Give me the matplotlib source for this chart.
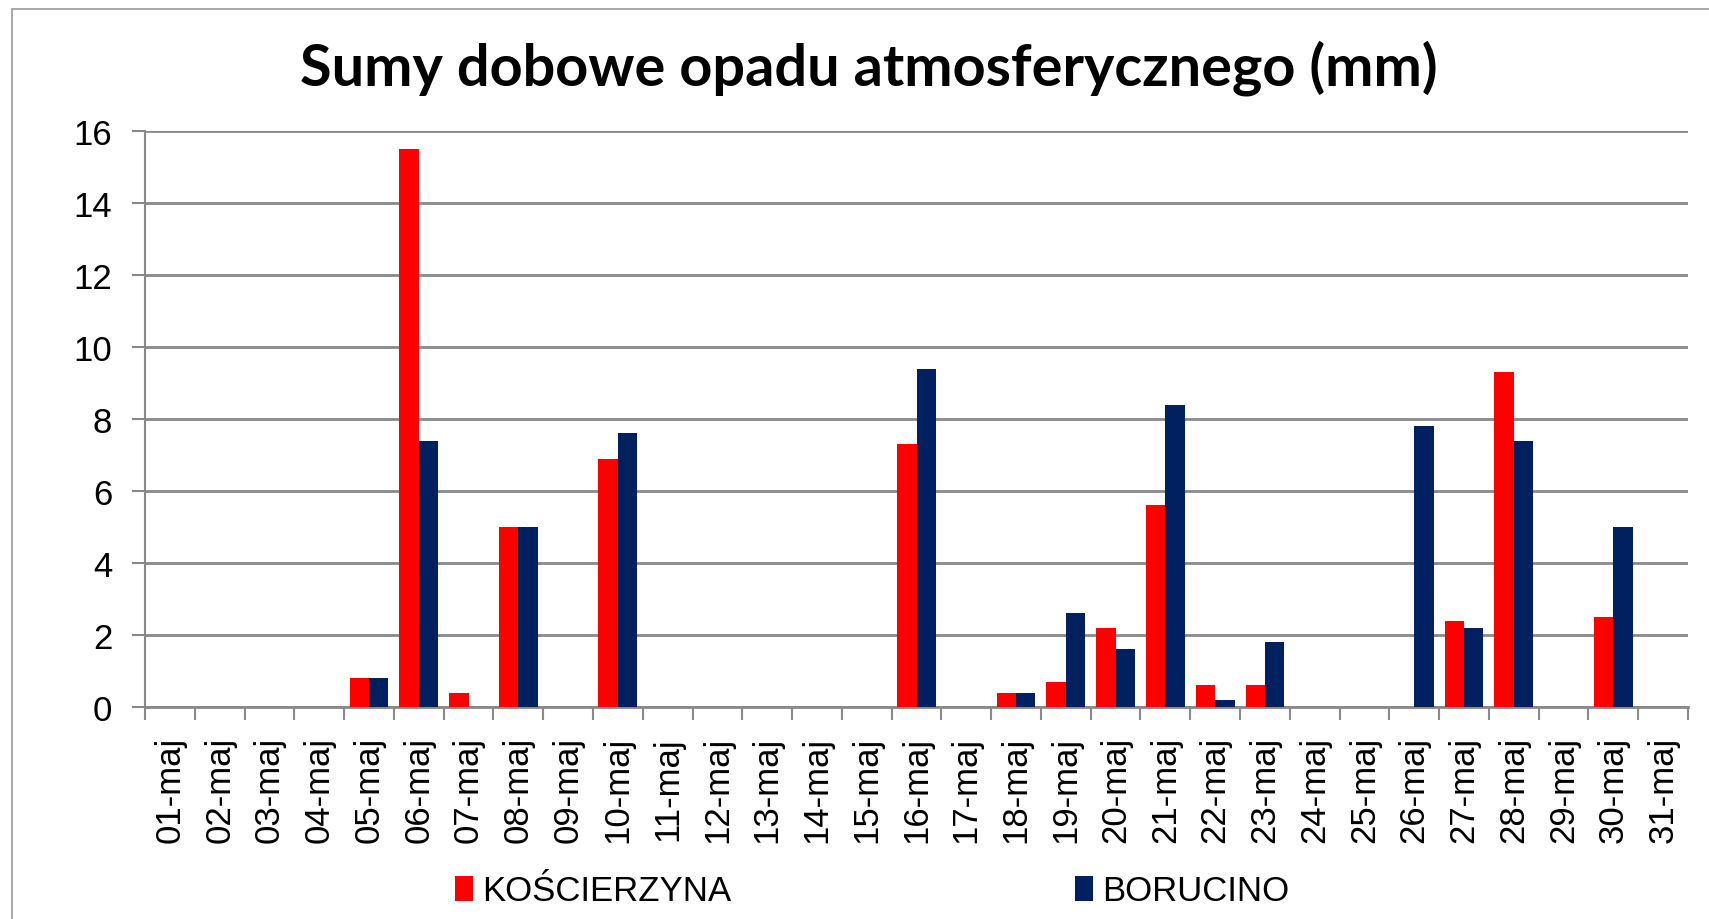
import matplotlib
matplotlib.use("Agg")
import matplotlib.pyplot as plt
from matplotlib.patches import Rectangle
import numpy as np

days = [f"{d:02d}-maj" for d in range(1, 32)]
koscierzyna = [0, 0, 0, 0, 0.8, 15.5, 0.4, 5.0, 0, 6.9, 0, 0, 0, 0, 0, 7.3, 0, 0.4, 0.7, 2.2,
               5.6, 0.6, 0.6, 0, 0, 0, 2.4, 9.3, 0, 2.5, 0]
borucino = [0, 0, 0, 0, 0.8, 7.4, 0, 5.0, 0, 7.6, 0, 0, 0, 0, 0, 9.4, 0, 0.4, 2.6, 1.6,
            8.4, 0.2, 1.8, 0, 0, 7.8, 2.2, 7.4, 0, 5.0, 0]
series_names = ["KOŚCIERZYNA", "BORUCINO"]
title = "Sumy dobowe opadu atmosferycznego (mm)"

W, H = 1709, 920
fig = plt.figure(figsize=(W / 100, H / 100), dpi=100)
fig.patch.set_facecolor("white")

# outer chart frame
fig.patches.append(Rectangle((12 / W, -0.1), 2.0, 1.1 - 10 / H, transform=fig.transFigure,
                             fill=False, edgecolor="#9a9a9a", linewidth=1.2))

ax = fig.add_axes([145 / W, 1 - 708 / H, (1688 - 145) / W, (708 - 132) / H])
x = np.arange(len(days))
bw = 0.39
gray = "#898989"
fs = 25
b1 = ax.bar(x - bw / 2, koscierzyna, bw, color="#FF0000", zorder=3, label=series_names[0])
b2 = ax.bar(x + bw / 2, borucino, bw, color="#002060", zorder=3, label=series_names[1])

ax.set_xlim(-0.5, len(days) - 0.5)
ax.set_ylim(0, 16)
ax.set_yticks(np.arange(0, 17, 2))
ax.yaxis.grid(True, color=gray, linewidth=2, zorder=0)
ax.set_axisbelow(True)

# category boundaries as major ticks, labels on minor ticks
ax.set_xticks(np.arange(-0.5, len(days), 1))
ax.set_xticklabels([])
ax.set_xticks(x, minor=True)
ax.set_xticklabels(days, minor=True, rotation=90, ha="center", va="top",
                   fontsize=fs, family="Liberation Sans")
ax.tick_params(axis="x", which="major", length=9.5, width=1.5, color=gray, direction="out")
ax.tick_params(axis="x", which="minor", length=0, pad=21)
ax.tick_params(axis="y", length=9.5, width=1.5, color=gray, direction="out", pad=14)
for lab in ax.get_yticklabels():
    lab.set_fontsize(fs)
    lab.set_family("Liberation Sans")

for s in ["top", "right"]:
    ax.spines[s].set_visible(False)
ax.spines["left"].set_color(gray)
ax.spines["left"].set_linewidth(1.5)
ax.spines["bottom"].set_color(gray)
ax.spines["bottom"].set_linewidth(2)

fig.text(869 / W, 1 - 68 / H, title, ha="center", va="center", fontsize=41.5,
         fontweight="bold", family="Lato")

leg = fig.legend(handles=[b1, b2], labels=series_names, loc="center",
                 bbox_to_anchor=(872 / W, 1 - 892 / H), ncol=2, frameon=False,
                 prop={"family": "Liberation Sans", "size": fs},
                 handlelength=0.53, handleheight=0.75, handletextpad=0.25,
                 columnspacing=9.9)

fig.savefig("out.png", dpi=100, facecolor="white")
